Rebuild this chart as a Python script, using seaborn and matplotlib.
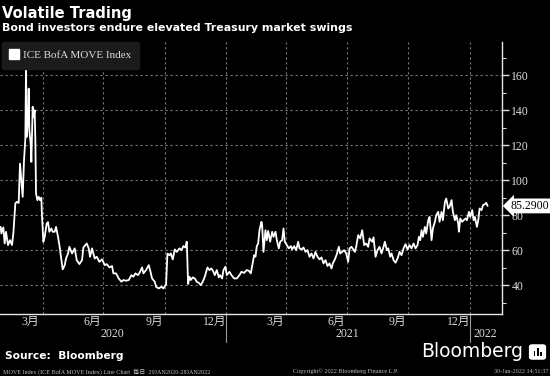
import matplotlib
matplotlib.use("Agg")
import matplotlib.pyplot as plt
import matplotlib.transforms as mtransforms
from matplotlib.lines import Line2D
from matplotlib.patches import FancyBboxPatch, Rectangle
from matplotlib.ticker import MultipleLocator
import seaborn as sns
import pandas as pd

# ---------------- data ----------------
move_dates = [
    "2020-01-29", "2020-01-30", "2020-02-02", "2020-02-04", "2020-02-06", "2020-02-09", "2020-02-12",
    "2020-02-15", "2020-02-17", "2020-02-20", "2020-02-22", "2020-02-25", "2020-02-27", "2020-02-29",
    "2020-03-02", "2020-03-04", "2020-03-06", "2020-03-07", "2020-03-08", "2020-03-10", "2020-03-11",
    "2020-03-12", "2020-03-14", "2020-03-15", "2020-03-17", "2020-03-18", "2020-03-20", "2020-03-21",
    "2020-03-22", "2020-03-24", "2020-03-26", "2020-03-28", "2020-03-30", "2020-03-31", "2020-04-02",
    "2020-04-04", "2020-04-07", "2020-04-09", "2020-04-11", "2020-04-14", "2020-04-16", "2020-04-19",
    "2020-04-21", "2020-04-24", "2020-04-26", "2020-04-29", "2020-05-01", "2020-05-04", "2020-05-06",
    "2020-05-09", "2020-05-11", "2020-05-15", "2020-05-19", "2020-05-22", "2020-05-26", "2020-05-30",
    "2020-06-01", "2020-06-06", "2020-06-09", "2020-06-11", "2020-06-14", "2020-06-18", "2020-06-21",
    "2020-06-25", "2020-06-29", "2020-07-03", "2020-07-06", "2020-07-10", "2020-07-14", "2020-07-16",
    "2020-07-20", "2020-07-24", "2020-07-28", "2020-07-31", "2020-08-04", "2020-08-08", "2020-08-12",
    "2020-08-15", "2020-08-18", "2020-08-22", "2020-08-25", "2020-08-28", "2020-08-30", "2020-09-03",
    "2020-09-07", "2020-09-09", "2020-09-12", "2020-09-16", "2020-09-18", "2020-09-22", "2020-09-26",
    "2020-09-29", "2020-10-03", "2020-10-05", "2020-10-08", "2020-10-10", "2020-10-13", "2020-10-16",
    "2020-10-19", "2020-10-23", "2020-10-26", "2020-10-29", "2020-11-01", "2020-11-03", "2020-11-05",
    "2020-11-07", "2020-11-09", "2020-11-12", "2020-11-15", "2020-11-18", "2020-11-21", "2020-11-24",
    "2020-11-27", "2020-11-30", "2020-12-04", "2020-12-07", "2020-12-10", "2020-12-13", "2020-12-15",
    "2020-12-18", "2020-12-21", "2020-12-23", "2020-12-26", "2020-12-28", "2020-12-31", "2021-01-02",
    "2021-01-06", "2021-01-09", "2021-01-13", "2021-01-17", "2021-01-21", "2021-01-24", "2021-01-28",
    "2021-02-01", "2021-02-04", "2021-02-07", "2021-02-09", "2021-02-12", "2021-02-14", "2021-02-16",
    "2021-02-18", "2021-02-20", "2021-02-23", "2021-02-24", "2021-02-26", "2021-03-01", "2021-03-03",
    "2021-03-05", "2021-03-08", "2021-03-11", "2021-03-13", "2021-03-16", "2021-03-18", "2021-03-21",
    "2021-03-23", "2021-03-26", "2021-03-28", "2021-03-30", "2021-04-02", "2021-04-05", "2021-04-08",
    "2021-04-10", "2021-04-13", "2021-04-16", "2021-04-19", "2021-04-21", "2021-04-24", "2021-04-27",
    "2021-04-30", "2021-05-03", "2021-05-06", "2021-05-09", "2021-05-12", "2021-05-15", "2021-05-18",
    "2021-05-21", "2021-05-24", "2021-05-27", "2021-05-30", "2021-06-02", "2021-06-05", "2021-06-08",
    "2021-06-10", "2021-06-13", "2021-06-16", "2021-06-19", "2021-06-21", "2021-06-24", "2021-06-27",
    "2021-06-30", "2021-07-03", "2021-07-05", "2021-07-08", "2021-07-13", "2021-07-15", "2021-07-18",
    "2021-07-21", "2021-07-24", "2021-07-27", "2021-07-30", "2021-08-02", "2021-08-04", "2021-08-08",
    "2021-08-10", "2021-08-13", "2021-08-16", "2021-08-19", "2021-08-22", "2021-08-25", "2021-08-27",
    "2021-08-30", "2021-09-01", "2021-09-04", "2021-09-06", "2021-09-09", "2021-09-12", "2021-09-15",
    "2021-09-18", "2021-09-21", "2021-09-24", "2021-09-27", "2021-09-30", "2021-10-03", "2021-10-06",
    "2021-10-09", "2021-10-12", "2021-10-15", "2021-10-17", "2021-10-19", "2021-10-21", "2021-10-23",
    "2021-10-26", "2021-10-28", "2021-10-31", "2021-11-02", "2021-11-05", "2021-11-07", "2021-11-10",
    "2021-11-12", "2021-11-15", "2021-11-17", "2021-11-20", "2021-11-22", "2021-11-25", "2021-11-27",
    "2021-11-30", "2021-12-02", "2021-12-05", "2021-12-07", "2021-12-10", "2021-12-12", "2021-12-15",
    "2021-12-16", "2021-12-18", "2021-12-21", "2021-12-23", "2021-12-26", "2021-12-28", "2021-12-31",
    "2022-01-02", "2022-01-05", "2022-01-07", "2022-01-09", "2022-01-12", "2022-01-14", "2022-01-16",
    "2022-01-19", "2022-01-21", "2022-01-24", "2022-01-26", "2022-01-28",
]
move_values = [
    73.3, 69.5, 73.0, 63.8, 70.5, 62.9, 65.7,
    62.9, 69.5, 86.7, 87.6, 87.0, 109.5, 100.0,
    90.5, 111.4, 123.8, 164.4, 124.8, 136.0, 152.4,
    128.6, 121.0, 110.5, 142.0, 136.0, 140.0, 123.0,
    92.4, 88.6, 90.5, 88.6, 90.0, 79.0, 64.8,
    67.6, 75.2, 76.0, 70.5, 72.4, 70.5, 70.5,
    73.3, 67.6, 62.9, 54.3, 49.0, 51.4, 55.2,
    58.1, 61.9, 58.1, 61.0, 54.3, 52.0, 54.3,
    61.5, 63.8, 61.0, 56.2, 61.0, 55.2, 56.2,
    53.3, 54.7, 51.4, 52.0, 50.1, 50.9, 46.7,
    46.7, 43.8, 41.9, 42.9, 42.5, 42.9, 45.7,
    44.8, 46.7, 45.7, 47.6, 50.1, 46.7, 48.6,
    51.4, 48.6, 43.8, 41.9, 39.0, 38.1, 39.0,
    38.1, 40.5, 58.0, 57.1, 58.1, 54.7, 60.4,
    59.0, 61.0, 60.0, 62.3, 61.5, 64.8, 40.6,
    44.8, 42.9, 44.4, 43.8, 41.9, 41.3, 40.0,
    41.9, 44.8, 50.1, 48.6, 49.5, 47.6, 45.7,
    48.6, 44.4, 45.7, 43.8, 48.6, 50.5, 45.7,
    47.6, 45.7, 43.8, 43.8, 45.7, 47.6, 47.0,
    48.6, 48.2, 46.7, 50.9, 57.1, 56.2, 62.3,
    63.8, 71.4, 76.2, 74.3, 59.0, 71.4, 65.7,
    71.0, 64.8, 70.5, 67.6, 70.5, 65.7, 61.0,
    64.8, 65.7, 72.4, 64.8, 62.9, 61.0, 62.3,
    60.4, 62.3, 60.0, 64.8, 61.0, 60.4, 61.5,
    59.0, 60.0, 56.2, 58.1, 55.2, 59.0, 56.2,
    54.7, 55.8, 52.4, 54.3, 50.9, 52.4, 49.5,
    52.4, 54.7, 57.7, 61.9, 58.1, 59.0, 60.0,
    58.1, 53.3, 61.0, 61.9, 59.0, 61.9, 68.6,
    66.7, 71.4, 62.9, 63.8, 61.9, 66.7, 64.8,
    67.3, 56.2, 60.0, 61.9, 58.1, 61.9, 64.8,
    60.0, 61.0, 56.2, 58.1, 54.3, 52.8, 55.2,
    59.0, 57.1, 61.0, 63.4, 60.4, 62.9, 61.0,
    63.8, 61.0, 62.9, 67.6, 65.7, 71.4, 67.6,
    73.3, 69.5, 77.1, 79.0, 65.7, 72.4, 76.2,
    80.0, 81.9, 76.2, 81.9, 77.1, 87.5, 89.5,
    83.8, 84.8, 88.6, 81.9, 77.1, 80.0, 75.2,
    70.5, 78.1, 76.2, 77.1, 78.1, 77.1, 81.9,
    79.0, 82.9, 77.1, 79.0, 73.3, 77.1, 83.8,
    82.9, 85.7, 86.3, 87.1, 85.29,
]

series_name = "ICE BofA MOVE Index"
y_ticks = [40, 60, 80, 100, 120, 140, 160]
quarter_starts = ["2020-04-01", "2020-07-01", "2020-10-01", "2021-01-01",
                  "2021-04-01", "2021-07-01", "2021-10-01", "2022-01-01"]
month_labels = ["3月", "6月", "9月", "12月", "3月", "6月", "9月", "12月"]
month_label_dates = ["2020-03-14", "2020-06-15", "2020-09-15", "2020-12-15",
                     "2021-03-15", "2021-06-15", "2021-09-15", "2021-12-15"]
year_labels = ["2020", "2021", "2022"]
year_label_dates = ["2020-07-15", "2021-07-02", "2022-01-25"]
year_breaks = ["2021-01-01", "2022-01-01"]

# ---------------- style ----------------
sns.set_theme(style="dark", rc={"axes.facecolor": "black", "figure.facecolor": "black",
                                "savefig.facecolor": "black"})
plt.rcParams["font.family"] = ["DejaVu Sans", "Noto Sans CJK SC"]
serif = ["Liberation Serif", "Noto Sans CJK SC"]
light = "#dcdcdc"
gridc = "#7a7a7a"

df = pd.DataFrame({"date": pd.to_datetime(move_dates), "value": move_values})

fig = plt.figure(figsize=(5.5, 3.76), dpi=100)
ax = fig.add_axes([0.0, 0.166, 0.912, 0.722])

# quarter grid + value grid
for q in quarter_starts:
    ax.axvline(pd.Timestamp(q), color=gridc, lw=0.8, ls=(0, (2, 2.5)), zorder=1)
for t in y_ticks:
    ax.axhline(t, color=gridc, lw=0.8, ls=(0, (2, 2.5)), zorder=1)

sns.lineplot(data=df, x="date", y="value", ax=ax, color="white", linewidth=1.3,
             legend=False, zorder=3)

ax.set_xlim(pd.Timestamp("2020-01-28"), pd.Timestamp("2022-02-18"))
ax.set_ylim(23.7, 179)
ax.set_xlabel("")
ax.set_ylabel("")

# y axis on the right
ax.yaxis.tick_right()
ax.set_yticks(y_ticks)
ax.yaxis.set_minor_locator(MultipleLocator(10))
ax.tick_params(axis="y", which="major", direction="out", length=5, width=1,
               color=light, pad=2, labelsize=8.5, labelcolor=light)
ax.tick_params(axis="y", which="minor", direction="out", length=3, width=0.8, color=light)
for lab in ax.get_yticklabels():
    lab.set_family(serif)

# x axis: month ticks, labels at mid month
month_starts = pd.date_range("2020-02-01", "2022-02-01", freq="MS")
ax.set_xticks(month_starts)
ax.set_xticklabels([""] * len(month_starts))
ax.set_xticks(pd.to_datetime(month_label_dates), minor=True)
ax.set_xticklabels(month_labels, minor=True)
ax.tick_params(axis="x", which="major", direction="out", length=3, width=0.8, color=light)
ax.tick_params(axis="x", which="minor", length=0, pad=2, labelsize=8.5, labelcolor=light)
for lab in ax.get_xticklabels(minor=True):
    lab.set_family(serif)

for side in ["top", "left"]:
    ax.spines[side].set_visible(False)
for side in ["right", "bottom"]:
    ax.spines[side].set_visible(True)
    ax.spines[side].set_color("#e6e6e6")
    ax.spines[side].set_linewidth(1.0)

# years below the months, with separators
trans = mtransforms.blended_transform_factory(ax.transData, ax.transAxes)
for lab, d in zip(year_labels, year_label_dates):
    ax.text(pd.Timestamp(d), -0.077, lab, transform=trans, ha="center", va="center",
            fontsize=8.5, color=light, family=serif)
for d in year_breaks:
    ax.add_line(Line2D([pd.Timestamp(d)] * 2, [0, -0.105], transform=trans,
                       color="#9a9a9a", lw=0.8, clip_on=False))

# legend box
handle = Line2D([], [], marker="s", ls="none", markersize=7.5,
                markerfacecolor="white", markeredgecolor="white")
leg = ax.legend([handle], [series_name], loc="upper left", bbox_to_anchor=(0.003, 1.0),
                borderaxespad=0.0, frameon=True, facecolor="#1b1b1b", edgecolor="#1b1b1b",
                framealpha=1, handlelength=0.8, handletextpad=0.35, borderpad=0.75,
                prop={"family": serif, "size": 8})
for txt in leg.get_texts():
    txt.set_color(light)
leg.set_zorder(5)

# last value tag
ytrans = mtransforms.blended_transform_factory(ax.transAxes, ax.transData)
ax.annotate(f"{move_values[-1]:.4f}", xy=(1.0, move_values[-1]), xycoords=ytrans,
            xytext=(6.5, 0), textcoords="offset points", ha="left", va="center",
            fontsize=8.5, color="black", family=serif, annotation_clip=False,
            bbox=dict(boxstyle="larrow,pad=0.12", fc="white", ec="none"), zorder=6)

# titles
fig.text(2 / 550, 0.951, "Volatile Trading", ha="left", va="baseline",
         fontsize=10.5, fontweight="bold", color="white")
fig.text(2 / 550, 0.918, "Bond investors endure elevated Treasury market swings",
         ha="left", va="baseline", fontsize=7.9, fontweight="bold", color="white")

# footer
fig.text(5 / 550, 0.044, "Source:  Bloomberg", ha="left", va="baseline",
         fontsize=7.7, fontweight="bold", color="white")
fig.text(421 / 550, 0.05, "Bloomberg", ha="left", va="baseline",
         fontsize=13.5, color="white")
icon = FancyBboxPatch((530 / 550, 17 / 376), 15 / 550, 14 / 376,
                      boxstyle="round,pad=0.002,rounding_size=0.006",
                      transform=fig.transFigure, fc="white", ec="none")
fig.patches.append(icon)
for i, h in enumerate([5, 8, 4]):
    fig.patches.append(Rectangle(((533.5 + i * 3.2) / 550, 20 / 376), 1.8 / 550, h / 376,
                                 transform=fig.transFigure, fc="black", ec="none"))
fig.text(3 / 550, 0.013, "MOVE Index (ICE BofA MOVE Index) Line Chart  每日  29JAN2020-28JAN2022",
         ha="left", va="center", fontsize=4.4, color="#bdbdbd", family=serif)
fig.text(293 / 550, 0.013, "Copyright© 2022 Bloomberg Finance L.P.",
         ha="left", va="center", fontsize=4.4, color="#bdbdbd", family=serif)
fig.text(548 / 550, 0.013, "30-Jan-2022 14:51:37",
         ha="right", va="center", fontsize=4.4, color="#bdbdbd", family=serif)

fig.savefig("out.png", dpi=100, facecolor="black")
